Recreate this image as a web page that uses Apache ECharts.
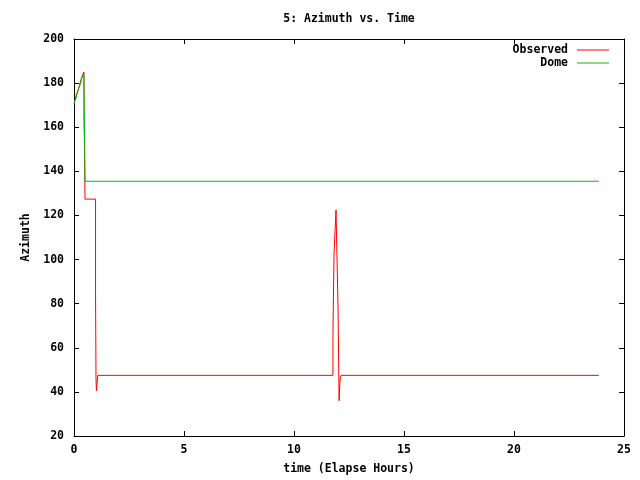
<!DOCTYPE html>
<html>
<head>
<meta charset="utf-8">
<script src="https://cdn.jsdelivr.net/npm/echarts@6/dist/echarts.min.js"></script>
<style>html,body{margin:0;padding:0;background:#fff}#c{width:640px;height:480px}</style>
</head>
<body>
<div id="c"></div>
<script>
// Data
var obsTime = [0, 0.05, 0.1, 0.15, 0.2, 0.25, 0.3, 0.35, 0.4, 0.45, 0.46, 0.47, 0.5, 0.98, 1.0, 1.02, 1.08, 11.77, 11.82, 11.91, 12.0, 12.05, 12.09, 12.14, 23.86];
var obsAz   = [171, 172.5, 174.5, 176, 177.5, 179, 181, 182.5, 184, 185, 159.5, 156.5, 127.4, 84, 46, 40.5, 47.5, 66.5, 103, 122.4, 79, 36, 45, 47.5, 47.5];
var domeTime = [0, 0.05, 0.1, 0.15, 0.2, 0.25, 0.3, 0.35, 0.4, 0.45, 0.5, 23.86];
var domeAz   = [170.5, 172, 173.5, 175.5, 177, 178.5, 180, 182, 183.5, 184.5, 135.5, 135.5];
var xTicks = [0, 5, 10, 15, 20, 25];
var yTicks = [20, 40, 60, 80, 100, 120, 140, 160, 180, 200];

function pairs(t, v) { return t.map(function (x, i) { return [x, v[i]]; }); }

var FONT = 'DejaVu Sans Mono';
var txt = { fontFamily: FONT, fontWeight: 'bold', fontSize: 11.5, color: '#000' };
var axLine = { show: true, onZero: false, lineStyle: { color: '#000', width: 1 } };
var tick = { show: true, inside: true, length: 5, lineStyle: { color: '#000', width: 1 } };

var chart = echarts.init(document.getElementById('c'), null, { renderer: 'canvas' });
chart.setOption({
  animation: false,
  backgroundColor: '#fff',
  grid: { left: 74, right: 16, top: 39, bottom: 42, containLabel: false },
  xAxis: [
    { type: 'value', position: 'bottom', min: xTicks[0], max: xTicks[xTicks.length - 1], interval: 5,
      name: 'time (Elapse Hours)', nameLocation: 'middle', nameGap: 27, nameTextStyle: txt,
      axisLine: axLine, axisTick: tick, splitLine: { show: false },
      axisLabel: Object.assign({ margin: 8 }, txt) },
    { type: 'value', position: 'top', min: xTicks[0], max: xTicks[xTicks.length - 1], interval: 5,
      name: '5: Azimuth vs. Time', nameLocation: 'middle', nameGap: 14, nameTextStyle: txt,
      axisLine: axLine, axisTick: tick, splitLine: { show: false }, axisLabel: { show: false } }
  ],
  yAxis: [
    { type: 'value', position: 'left', min: yTicks[0], max: yTicks[yTicks.length - 1], interval: 20,
      name: 'Azimuth', nameLocation: 'middle', nameGap: 37, nameTextStyle: txt,
      axisLine: axLine, axisTick: tick, splitLine: { show: false },
      axisLabel: Object.assign({ margin: 10 }, txt) },
    { type: 'value', position: 'right', min: yTicks[0], max: yTicks[yTicks.length - 1], interval: 20,
      axisLine: axLine, axisTick: tick, splitLine: { show: false }, axisLabel: { show: false } }
  ],
  legend: [
    { data: [{ name: 'Observed', itemStyle: { color: '#ff0000' } }], right: 31, top: 44, align: 'right', icon: 'rect', itemWidth: 32, itemHeight: 1,
      itemGap: 0, padding: 0, textStyle: Object.assign({ padding: [0, 4, 0, 0] }, txt), selectedMode: false },
    { data: [{ name: 'Dome', itemStyle: { color: '#00c000' } }], right: 31, top: 57, align: 'right', icon: 'rect', itemWidth: 32, itemHeight: 1,
      itemGap: 0, padding: 0, textStyle: Object.assign({ padding: [0, 4, 0, 0] }, txt), selectedMode: false }
  ],
  series: [
    { name: 'Observed', type: 'line', step: 'end', showSymbol: false, symbol: 'none',
      data: pairs(obsTime, obsAz), color: '#ff0000',
      lineStyle: { color: '#ff0000', width: 1 }, itemStyle: { color: '#ff0000' } },
    { name: 'Dome', type: 'line', step: 'end', showSymbol: false, symbol: 'none',
      data: pairs(domeTime, domeAz), color: '#00c000',
      lineStyle: { color: '#00c000', width: 1 }, itemStyle: { color: '#00c000' } }
  ]
});
</script>
</body>
</html>
